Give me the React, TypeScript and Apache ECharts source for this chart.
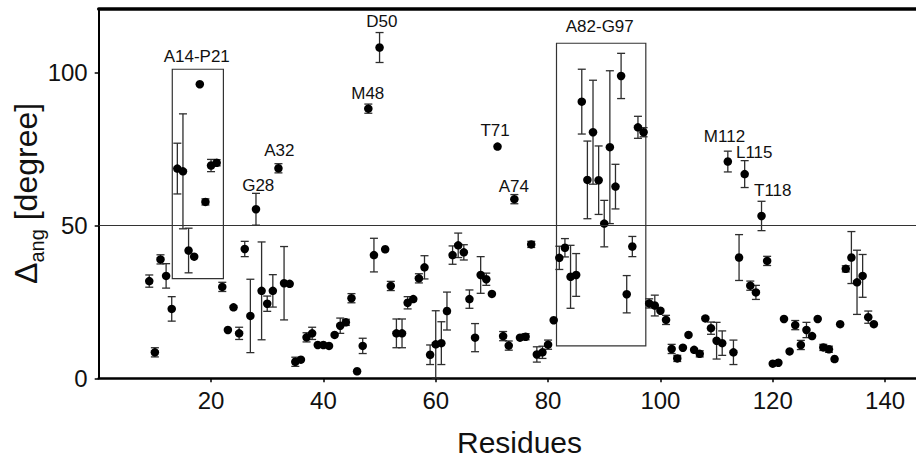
import React, { useEffect, useRef } from 'react';
import * as echarts from 'echarts';

const FONT = '"Liberation Sans", Arial, sans-serif';

const residues = [
  9, 10, 11, 12, 13, 14, 15, 16, 17, 18, 19, 20, 21, 22, 23, 24, 25, 26, 27, 28,
  29, 30, 31, 32, 33, 34, 35, 36, 37, 38, 39, 40, 41, 42, 43, 44, 45, 46, 47, 48,
  49, 50, 51, 52, 53, 54, 55, 56, 57, 58, 59, 60, 61, 62, 63, 64, 65, 66, 67, 68,
  69, 70, 71, 72, 73, 74, 75, 76, 77, 78, 79, 80, 81, 82, 83, 84, 85, 86, 87, 88,
  89, 90, 91, 92, 93, 94, 95, 96, 97, 98, 99, 100, 101, 102, 103, 104, 105, 106, 107, 108,
  109, 110, 111, 112, 113, 114, 115, 116, 117, 118, 119, 120, 121, 122, 123, 124, 125, 126, 127, 128,
  129, 130, 131, 132, 133, 134, 135, 136, 137, 138,
];

const deltaAng = [
  31.8, 8.5, 38.9, 33.5, 22.7, 68.6, 67.7, 41.8, 39.8, 96.2, 57.7, 69.6, 70.5, 29.9, 15.8, 23.2, 14.7, 42.3, 20.4, 55.3,
  28.6, 24.4, 28.6, 68.7, 31.1, 30.9, 5.4, 6.1, 13.4, 14.7, 10.9, 10.9, 10.6, 14.2, 17.2, 18.3, 26.2, 2.3, 10.6, 88.2,
  40.3, 108.2, 42.2, 30.2, 14.7, 14.7, 24.7, 25.9, 32.7, 36.3, 7.7, 11.1, 11.5, 22.0, 40.3, 43.5, 41.2, 25.9, 13.3, 33.8,
  32.4, 27.6, 75.8, 13.8, 10.7, 58.6, 13.3, 13.6, 43.8, 7.8, 8.5, 11.0, 19.0, 39.4, 42.7, 33.2, 33.8, 90.5, 64.9, 80.5,
  64.8, 50.6, 75.6, 62.7, 98.9, 27.5, 43.1, 82.1, 80.5, 24.5, 23.8, 22.1, 19.1, 9.6, 6.5, 10.0, 14.2, 9.3, 8.0, 19.6,
  16.4, 12.3, 11.5, 70.9, 8.5, 39.5, 66.8, 30.3, 28.1, 53.1, 38.4, 4.8, 5.1, 19.4, 8.8, 17.4, 10.9, 15.8, 13.8, 19.4,
  10.1, 9.5, 6.3, 17.7, 35.8, 39.5, 31.4, 33.5, 20.0, 17.7,
];

const errorBars = [
  2, 1.5, 1.5, 4, 4, 8.3, 18.8, 7.3, 0, 0, 1, 2, 1, 1.5, 0, 0, 2, 2.5, 12, 5.2,
  16, 2.5, 5.3, 1.5, 12, 0, 1.5, 0, 1.5, 2, 0, 0, 0, 0, 2.5, 1, 1.5, 0, 2.5, 1.5,
  5.5, 4.9, 0, 1.5, 4.7, 4.7, 2, 0, 1.5, 3.8, 3.2, 11, 7, 6.2, 3, 4, 2.5, 3, 4.6, 6,
  2, 0, 0, 1.5, 1.5, 1.5, 0, 1, 1, 2.5, 2, 1.5, 0, 3.8, 3, 10.3, 7, 10.6, 12.7, 17,
  11.2, 7.6, 25, 7.3, 7.4, 6.1, 3.3, 3.6, 1.5, 1.5, 3.4, 0, 1.5, 1.5, 1, 0, 0, 0, 1, 0,
  2, 6, 4, 3.4, 4, 7.5, 4.4, 1.5, 2.3, 4.8, 1.5, 0, 0, 0, 0, 1.5, 1.5, 2.5, 0, 0,
  1, 1, 0, 0, 1, 8.5, 10.5, 7, 2, 0,
];

const annoLabels = ['A14-P21', 'A32', 'G28', 'D50', 'M48', 'T71', 'A74', 'A82-G97', 'M112', 'L115', 'T118'];
const annoX = [17.45, 32.15, 28.4, 50.4, 47.9, 70.56, 73.9, 89.2, 111.4, 116.7, 120.0];
const annoY = [105.2, 74.4, 63.2, 116.7, 93.0, 80.9, 62.9, 115.1, 79.1, 73.8, 61.3];

const boxX1 = [13.1, 81.5];
const boxX2 = [22.2, 97.4];
const boxY1 = [32.6, 10.6];
const boxY2 = [101.1, 109.6];

const xTicks = [20, 40, 60, 80, 100, 120, 140];
const yTicks = [0, 50, 100];
const threshold = 50;

export default function App() {
  const ref = useRef<HTMLDivElement>(null);

  useEffect(() => {
    if (!ref.current) return;
    const chart = echarts.init(ref.current, undefined, { renderer: 'svg' });

    const pointData = residues.map((r, i) => [r, deltaAng[i]]);
    const errData = residues.map((r, i) => [r, deltaAng[i], errorBars[i]]);
    const annoData = annoLabels.map((_, i) => [annoX[i], annoY[i]]);
    const boxData = boxX1.map((_, i) => [boxX1[i], boxX2[i], boxY1[i], boxY2[i]]);

    const option: any = {
      animation: false,
      backgroundColor: '#ffffff',
      grid: { left: 98.7, right: 0, top: 9, bottom: 80.7, containLabel: false },
      xAxis: [
        {
          type: 'value',
          min: 0,
          max: 145.5,
          interval: 20,
          position: 'bottom',
          axisLine: { onZero: false, lineStyle: { color: '#000', width: 2.5 } },
          axisTick: { show: true, length: 4, inside: false, customValues: xTicks, lineStyle: { color: '#000', width: 1.5 } },
          axisLabel: {
            customValues: xTicks,
            margin: 10,
            fontSize: 24,
            color: '#111',
            fontFamily: FONT,
          },
          splitLine: { show: false },
        },
        {
          type: 'value',
          min: 0,
          max: 145.5,
          position: 'top',
          axisLine: { onZero: false, lineStyle: { color: '#000', width: 3.5 } },
          axisTick: { show: false },
          axisLabel: { show: false },
          splitLine: { show: false },
        },
      ],
      yAxis: {
        type: 'value',
        min: 0,
        max: 120.8,
        interval: 50,
        axisLine: { show: true, onZero: false, lineStyle: { color: '#000', width: 2 } },
        axisTick: { show: true, length: 4, customValues: yTicks, lineStyle: { color: '#000', width: 1.5 } },
        axisLabel: {
          customValues: yTicks,
          margin: 11,
          fontSize: 24,
          color: '#111',
          fontFamily: FONT,
        },
        splitLine: { show: false },
      },
      graphic: [
        {
          type: 'text',
          x: 519.5,
          y: 442,
          style: {
            text: 'Residues',
            fontSize: 30,
            fontFamily: FONT,
            fill: '#111',
            align: 'center',
            verticalAlign: 'middle',
          },
        },
        {
          type: 'group',
          x: 26,
          y: 194,
          rotation: Math.PI / 2,
          children: [
            {
              type: 'text',
              x: -90,
              y: 0,
              style: { text: 'Δ', fontSize: 32, fontFamily: FONT, fill: '#111', align: 'left', verticalAlign: 'middle' },
            },
            {
              type: 'text',
              x: -68.6,
              y: 11,
              style: { text: 'ang', fontSize: 20, fontFamily: FONT, fill: '#111', align: 'left', verticalAlign: 'middle' },
            },
            {
              type: 'text',
              x: -35.2,
              y: 0,
              style: { text: ' [degree]', fontSize: 32, fontFamily: FONT, fill: '#111', align: 'left', verticalAlign: 'middle' },
            },
          ],
        },
      ],
      series: [
        {
          type: 'custom',
          name: 'boxes',
          xAxisIndex: 0,
          data: boxData,
          z: 1,
          renderItem: (params: any, api: any) => {
            const p1 = api.coord([api.value(0), api.value(3)]);
            const p2 = api.coord([api.value(1), api.value(2)]);
            return {
              type: 'rect',
              shape: { x: p1[0], y: p1[1], width: p2[0] - p1[0], height: p2[1] - p1[1] },
              style: { fill: 'none', stroke: '#333', lineWidth: 1.2 },
            };
          },
        },
        {
          type: 'custom',
          name: 'errors',
          xAxisIndex: 0,
          data: errData,
          z: 2,
          renderItem: (params: any, api: any) => {
            const x = api.value(0);
            const y = api.value(1);
            const e = api.value(2);
            if (!e) return { type: 'group', children: [] };
            const top = api.coord([x, y + e]);
            const bot = api.coord([x, y - e]);
            const cap = 4;
            const style = { stroke: '#2e2e2e', lineWidth: 1.3 };
            return {
              type: 'group',
              children: [
                { type: 'line', shape: { x1: top[0], y1: top[1], x2: bot[0], y2: bot[1] }, style },
                { type: 'line', shape: { x1: top[0] - cap, y1: top[1], x2: top[0] + cap, y2: top[1] }, style },
                { type: 'line', shape: { x1: bot[0] - cap, y1: bot[1], x2: bot[0] + cap, y2: bot[1] }, style },
              ],
            };
          },
        },
        {
          type: 'scatter',
          name: 'points',
          xAxisIndex: 0,
          data: pointData,
          symbol: 'circle',
          symbolSize: 8.5,
          itemStyle: { color: '#000', opacity: 1 },
          z: 3,
          markLine: {
            silent: true,
            symbol: 'none',
            label: { show: false },
            lineStyle: { color: '#333', width: 1.2, type: 'solid' },
            data: [{ yAxis: threshold }],
          },
        },
        {
          type: 'custom',
          name: 'annotations',
          xAxisIndex: 0,
          data: annoData,
          z: 4,
          renderItem: (params: any, api: any) => {
            const p = api.coord([api.value(0), api.value(1)]);
            return {
              type: 'text',
              x: p[0],
              y: p[1],
              style: {
                text: annoLabels[params.dataIndex],
                fontSize: 17,
                fontFamily: FONT,
                fill: '#111',
                align: 'center',
                verticalAlign: 'middle',
              },
            };
          },
        },
      ],
    };

    chart.setOption(option);
    return () => chart.dispose();
  }, []);

  return (
    <div
      ref={ref}
      style={{ position: 'fixed', left: 0, top: 0, width: 916, height: 459, background: '#fff' }}
    />
  );
}
